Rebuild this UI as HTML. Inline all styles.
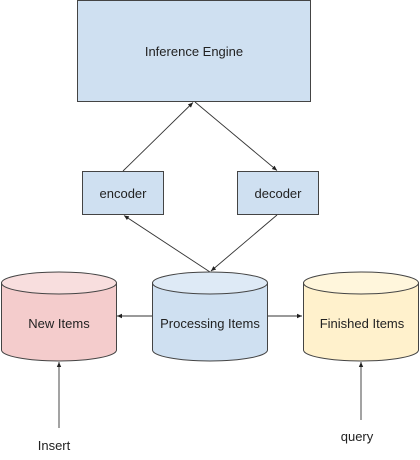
<!DOCTYPE html>
<html><head><meta charset="utf-8"><style>
html,body{margin:0;padding:0;background:#fff;width:420px;height:460px;overflow:hidden}
svg{display:block}
text{font-family:"Liberation Sans",sans-serif;font-size:13px;fill:#222}
</style></head><body>
<svg width="420" height="460" viewBox="0 0 420 460" xmlns="http://www.w3.org/2000/svg">
<defs>
<marker id="a" markerWidth="6" markerHeight="6" refX="5" refY="3" orient="auto" markerUnits="userSpaceOnUse">
<path d="M0,0.8 L5,3 L0,5.2 Z" fill="#222"/>
</marker>
</defs>
<rect x="77.5" y="0.5" width="233" height="101" fill="#cfe0f1" stroke="#444"/>
<text x="194" y="56" text-anchor="middle">Inference Engine</text>
<rect x="82.5" y="171.5" width="81" height="43" fill="#cfe0f1" stroke="#444"/>
<text x="123" y="198" text-anchor="middle">encoder</text>
<rect x="237.5" y="171.5" width="81" height="43" fill="#cfe0f1" stroke="#444"/>
<text x="278" y="198" text-anchor="middle">decoder</text>

<g stroke="#333" stroke-width="0.9" fill="none">
<line x1="123" y1="171" x2="193" y2="102.5" marker-end="url(#a)"/>
<line x1="195" y1="102" x2="277" y2="170.5" marker-end="url(#a)"/>
<line x1="210" y1="272" x2="124" y2="215.5" marker-end="url(#a)"/>
<line x1="277" y1="215" x2="211" y2="271" marker-end="url(#a)"/>
<line x1="152" y1="316" x2="117" y2="316" marker-end="url(#a)"/>
<line x1="267" y1="316" x2="302" y2="316" marker-end="url(#a)"/>
<line x1="59" y1="428" x2="59" y2="362" marker-end="url(#a)"/>
<line x1="361" y1="420" x2="361" y2="362" marker-end="url(#a)"/>
</g>

<g stroke="#444" stroke-width="1">
<path d="M1.5,283 L1.5,350 A57.5,11 0 0 0 116.5,350 L116.5,283" fill="#f4cccc"/>
<ellipse cx="59" cy="283" rx="57.5" ry="11" fill="#f8dede"/>
<path d="M152.5,283 L152.5,350 A57.5,11 0 0 0 267.5,350 L267.5,283" fill="#cfe0f1"/>
<ellipse cx="210" cy="283" rx="57.5" ry="11" fill="#deeaf6"/>
<path d="M303.5,283 L303.5,350 A57.5,11 0 0 0 418.5,350 L418.5,283" fill="#fff1cc"/>
<ellipse cx="361" cy="283" rx="57.5" ry="11" fill="#fff6dc"/>
</g>
<text x="59" y="328" text-anchor="middle">New Items</text>
<text x="210" y="328" text-anchor="middle">Processing Items</text>
<text x="362" y="328" text-anchor="middle">Finished Items</text>
<text x="54" y="450" text-anchor="middle">Insert</text>
<text x="357" y="441" text-anchor="middle">query</text>
</svg>
</body></html>
